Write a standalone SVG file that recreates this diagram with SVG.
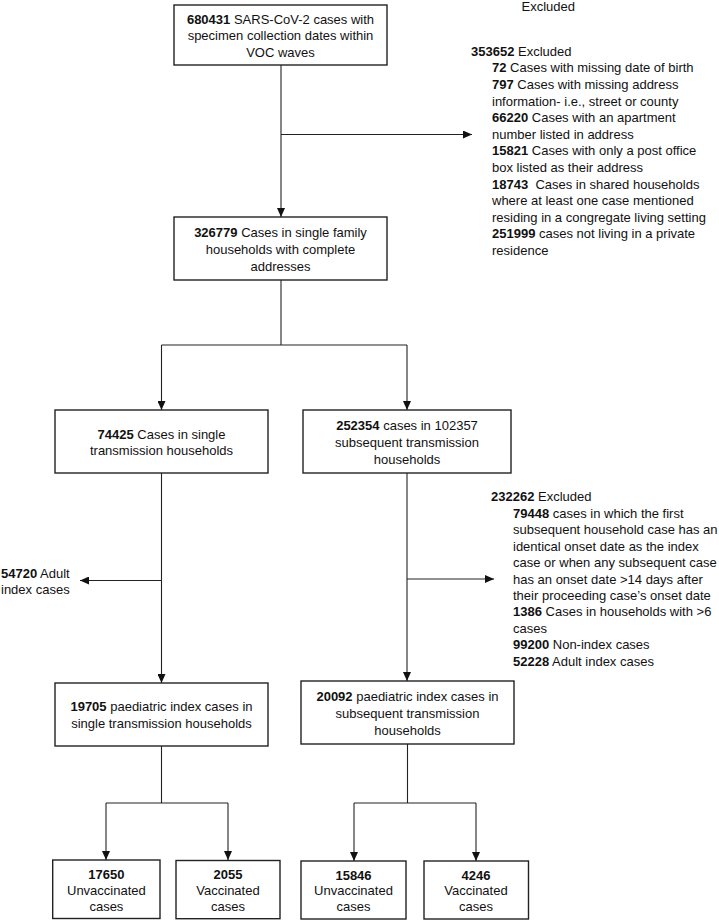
<svg xmlns="http://www.w3.org/2000/svg" width="719" height="921" viewBox="0 0 719 921">
<defs>
<style>
text{font-family:"Liberation Sans",Arial,sans-serif;font-size:13px;fill:#111;}
.c{text-anchor:middle;}
.b{font-weight:bold;}
rect{fill:#fff;stroke:#222;stroke-width:1.4;}
.cn line{stroke:#222;stroke-width:1.1;fill:none;}
</style>
<marker id="ah" markerUnits="userSpaceOnUse" markerWidth="9" markerHeight="8" refX="9" refY="4" orient="auto">
<path d="M0,0 L9,4 L0,8 z" fill="#111"/>
</marker>
</defs>
<rect x="0" y="0" width="719" height="921" style="stroke:none;fill:#fff"/>

<g class="cn" id="connectors">
<line x1="281" y1="65" x2="281" y2="217" marker-end="url(#ah)"/>
<line x1="281" y1="134.5" x2="472" y2="134.5" marker-end="url(#ah)"/>
<line x1="281" y1="280" x2="281" y2="345"/>
<line x1="161.5" y1="345" x2="407" y2="345"/>
<line x1="161.5" y1="345" x2="161.5" y2="410" marker-end="url(#ah)"/>
<line x1="407" y1="345" x2="407" y2="410" marker-end="url(#ah)"/>
<line x1="161.5" y1="473" x2="161.5" y2="683" marker-end="url(#ah)"/>
<line x1="161.5" y1="580.5" x2="80" y2="580.5" marker-end="url(#ah)"/>
<line x1="407" y1="473" x2="407" y2="681" marker-end="url(#ah)"/>
<line x1="407" y1="579" x2="494" y2="579" marker-end="url(#ah)"/>
<line x1="161.5" y1="746" x2="161.5" y2="803"/>
<line x1="106" y1="803" x2="228" y2="803"/>
<line x1="106" y1="803" x2="106" y2="860" marker-end="url(#ah)"/>
<line x1="228" y1="803" x2="228" y2="860" marker-end="url(#ah)"/>
<line x1="407.5" y1="744" x2="407.5" y2="803"/>
<line x1="354" y1="803" x2="476" y2="803"/>
<line x1="354" y1="803" x2="354" y2="861" marker-end="url(#ah)"/>
<line x1="476" y1="803" x2="476" y2="861" marker-end="url(#ah)"/>
</g>

<g id="n-start">
<rect x="174" y="5" width="213" height="60"/>
<text class="c" x="280.5" y="23.7"><tspan class="b">680431</tspan> SARS-CoV-2 cases with</text>
<text class="c" x="280.5" y="40.4">specimen collection dates within</text>
<text class="c" x="280.5" y="57">VOC waves</text>
</g>

<g id="n-top-excluded">
<text x="521.5" y="10.5">Excluded</text>
</g>

<g id="n-excluded1">
<text x="471" y="55.7"><tspan class="b">353652</tspan> Excluded</text>
<text x="492" y="72.4"><tspan class="b">72</tspan> Cases with missing date of birth</text>
<text x="492" y="89"><tspan class="b">797</tspan> Cases with missing address</text>
<text x="492" y="105.6">information- i.e., street or county</text>
<text x="492" y="122.2"><tspan class="b">66220</tspan> Cases with an apartment</text>
<text x="492" y="138.8">number listed in address</text>
<text x="492" y="155.4"><tspan class="b">15821</tspan> Cases with only a post office</text>
<text x="492" y="172">box listed as their address</text>
<text x="492" y="188.6"><tspan class="b">18743</tspan>&#160; Cases in shared households</text>
<text x="492" y="205.2">where at least one case mentioned</text>
<text x="492" y="221.8">residing in a congregate living setting</text>
<text x="492" y="238.4"><tspan class="b">251999</tspan> cases not living in a private</text>
<text x="492" y="255">residence</text>
</g>

<g id="n-single-family">
<rect x="174" y="217" width="213" height="63"/>
<text class="c" x="280.5" y="237"><tspan class="b">326779</tspan> Cases in single family</text>
<text class="c" x="280.5" y="254">households with complete</text>
<text class="c" x="280.5" y="270.7">addresses</text>
</g>

<g id="n-single-tx">
<rect x="55" y="410" width="213" height="63"/>
<text class="c" x="161.5" y="438.7"><tspan class="b">74425</tspan> Cases in single</text>
<text class="c" x="161.5" y="455.4">transmission households</text>
</g>

<g id="n-subsequent-tx">
<rect x="303" y="410" width="208" height="63"/>
<text class="c" x="407" y="430.4"><tspan class="b">252354</tspan> cases in 102357</text>
<text class="c" x="407" y="447.4">subsequent transmission</text>
<text class="c" x="407" y="464">households</text>
</g>

<g id="n-adult-index">
<text x="1" y="578"><tspan class="b">54720</tspan> Adult</text>
<text x="1" y="594">index cases</text>
</g>

<g id="n-excluded2">
<text x="491" y="501.4"><tspan class="b">232262</tspan> Excluded</text>
<text x="513" y="518"><tspan class="b">79448</tspan> cases in which the first</text>
<text x="513" y="534.4">subsequent household case has an</text>
<text x="513" y="550.8">identical onset date as the index</text>
<text x="513" y="567.2">case or when any subsequent case</text>
<text x="513" y="583.6">has an onset date &gt;14 days after</text>
<text x="513" y="600">their proceeding case’s onset date</text>
<text x="513" y="616.4"><tspan class="b">1386</tspan> Cases in households with &gt;6</text>
<text x="513" y="632.8">cases</text>
<text x="513" y="649.2"><tspan class="b">99200</tspan> Non-index cases</text>
<text x="513" y="665.6"><tspan class="b">52228</tspan> Adult index cases</text>
</g>

<g id="n-paed-single">
<rect x="55" y="683" width="213" height="63"/>
<text class="c" x="161.5" y="711.4"><tspan class="b">19705</tspan> paediatric index cases in</text>
<text class="c" x="161.5" y="728">single transmission households</text>
</g>

<g id="n-paed-subsequent">
<rect x="301" y="681" width="213" height="63"/>
<text class="c" x="407.5" y="701.4"><tspan class="b">20092</tspan> paediatric index cases in</text>
<text class="c" x="407.5" y="718">subsequent transmission</text>
<text class="c" x="407.5" y="734.7">households</text>
</g>

<g id="n-unvax1">
<rect x="52.7" y="860" width="107.3" height="58.5"/>
<text class="c b" x="106.4" y="879">17650</text>
<text class="c" x="106.4" y="894.7">Unvaccinated</text>
<text class="c" x="106.4" y="910.7">cases</text>
</g>

<g id="n-vax1">
<rect x="176" y="860.5" width="104" height="58.2"/>
<text class="c b" x="228" y="879">2055</text>
<text class="c" x="228" y="894.7">Vaccinated</text>
<text class="c" x="228" y="910.7">cases</text>
</g>

<g id="n-unvax2">
<rect x="301" y="861" width="105" height="58"/>
<text class="c b" x="353.5" y="879.5">15846</text>
<text class="c" x="353.5" y="895.2">Unvaccinated</text>
<text class="c" x="353.5" y="911.2">cases</text>
</g>

<g id="n-vax2">
<rect x="424" y="861" width="104.5" height="58"/>
<text class="c b" x="476" y="879.5">4246</text>
<text class="c" x="476" y="895.2">Vaccinated</text>
<text class="c" x="476" y="911.2">cases</text>
</g>
</svg>
